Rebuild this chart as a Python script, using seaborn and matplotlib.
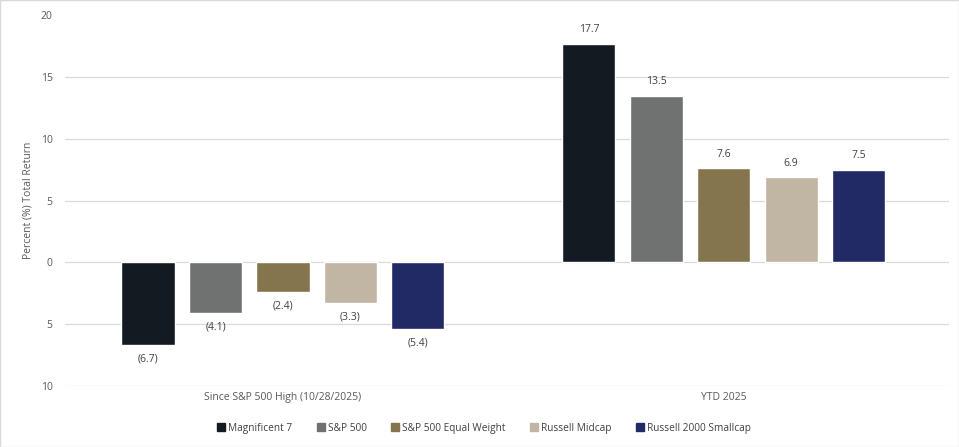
import matplotlib
matplotlib.use("Agg")
import matplotlib.pyplot as plt
import seaborn as sns
import pandas as pd
from matplotlib.ticker import FuncFormatter
from matplotlib.lines import Line2D

periods = ["Since S&P 500 High (10/28/2025)", "YTD 2025"]
series = ["Magnificent 7", "S&P 500", "S&P 500 Equal Weight", "Russell Midcap", "Russell 2000 Smallcap"]
since_high = [-6.7, -4.1, -2.4, -3.3, -5.4]
ytd_2025 = [17.7, 13.5, 7.6, 6.9, 7.5]
colors = ["#131a22", "#707271", "#84754e", "#c1b5a3", "#212a65"]
yticks = [-10, -5, 0, 5, 10, 15, 20]

rows = []
for s, a, b in zip(series, since_high, ytd_2025):
    rows.append({"period": periods[0], "series": s, "value": a})
    rows.append({"period": periods[1], "series": s, "value": b})
df = pd.DataFrame(rows)

sns.set_theme(style="white")
plt.rcParams['font.family'] = ['Open Sans', 'DejaVu Sans']

fig = plt.figure(figsize=(9.59, 4.47), dpi=100)
ax = fig.add_axes([0.068, 0.1365, 0.922, 0.8295])

sns.barplot(data=df, x="period", y="value", hue="series", order=periods,
            hue_order=series, palette=colors, width=0.765, gap=0.21,
            saturation=1, legend=False, ax=ax, errorbar=None)

ax.set_ylim(-10, 20)
ax.set_xlim(-0.494, 1.512)
ax.set_yticks(yticks)
ax.yaxis.set_major_formatter(FuncFormatter(lambda v, p: f"{abs(int(v))}"))
ax.grid(axis="y", color="#d9d9d9", linewidth=0.9)
ax.set_axisbelow(True)
for gl, t in zip(ax.yaxis.get_gridlines(), yticks):
    if t == 20:
        gl.set_visible(False)
for sp in ax.spines.values():
    sp.set_visible(False)
ax.tick_params(axis="both", length=0, labelsize=7.5, colors="#595959", pad=4)
ax.tick_params(axis="y", pad=9)
ax.set_xlabel("")
ax.set_ylabel("Percent (%) Total Return", fontsize=7.5, color="#595959", labelpad=5)

def fmt(v):
    return f"({abs(v):.1f})" if v < 0 else f"{v:.1f}"

for cont in ax.containers:
    vals = [b.get_height() for b in cont]
    ax.bar_label(cont, labels=[fmt(v) for v in vals], padding=6,
                 fontsize=7.5, color="#404040")

handles = [Line2D([0], [0], marker="s", linestyle="", markersize=6,
                  markerfacecolor=c, markeredgecolor=c) for c in colors]
fig.legend(handles, series, loc="center", bbox_to_anchor=(0.505, 0.042),
           ncol=5, frameon=False, fontsize=7.3, handletextpad=0.3,
           columnspacing=2.4, handlelength=0.8, labelcolor="#404040")

fig.patches.append(plt.Rectangle((0.0005, 0.001), 0.999, 0.998, transform=fig.transFigure,
                                 fill=False, edgecolor="#d9d9d9", linewidth=1))

fig.savefig("out.png", dpi=100, facecolor="white")
